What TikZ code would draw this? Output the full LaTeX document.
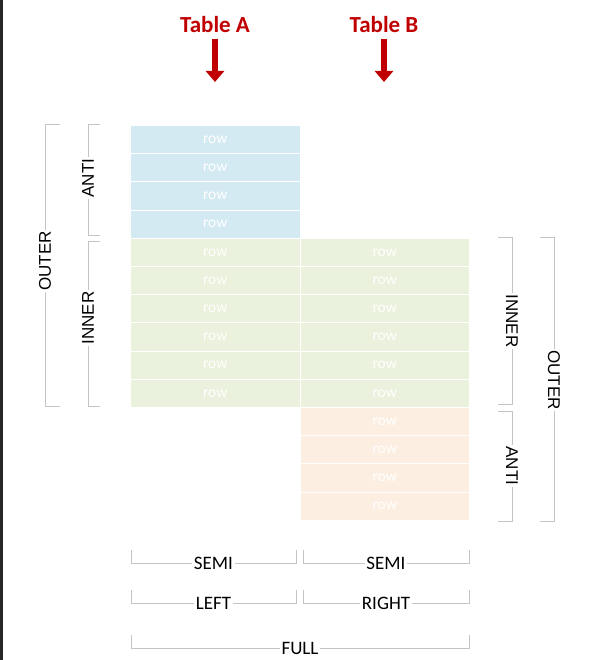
\documentclass[tikz,border=0pt]{standalone}
\usepackage{fontspec}
\setmainfont{Carlito}
\newfontfamily\sidefont{Liberation Sans}
\usetikzlibrary{arrows.meta}

\definecolor{tblblue}{HTML}{D3EAF2}
\definecolor{tblgreen}{HTML}{EAF1DD}
\definecolor{tblpeach}{HTML}{FDEEE2}
\definecolor{titlered}{HTML}{C00000}
\definecolor{brkgray}{HTML}{C4C4C4}
\definecolor{edgedark}{HTML}{262626}

\begin{document}
\begin{tikzpicture}[x=1pt,y=-1pt,
  rowcell/.style={anchor=north west, minimum width=169.5pt, minimum height=28.2pt,
    inner sep=0pt, draw=white, line width=1pt, text=white,
    font=\fontsize{15.5}{15.5}\selectfont},
  title/.style={text=titlered, font=\fontsize{23}{23}\selectfont\bfseries},
  downarrow/.style={draw=titlered, line width=6.5pt, -{Triangle[width=18pt,length=11pt]}},
  brk/.style={draw=brkgray, line width=1pt},
  sidelabel/.style={fill=white, inner sep=1.5pt, text=black,
    font=\sidefont\fontsize{17}{17}\selectfont},
  botlabel/.style={fill=white, inner sep=1.5pt, text=black,
    font=\fontsize{19}{19}\selectfont}]

\useasboundingbox (0,0) rectangle (597,660);
\fill[edgedark] (0,0) rectangle (2.5,660);

% column headers and their arrows
\node[title] (ta) at (215,25) {Table A};
\node[title] (tb) at (384,25) {Table B};
\coordinate (ta-s) at (215,39);
\coordinate (ta-e) at (215,82);
\coordinate (tb-s) at (384,39);
\coordinate (tb-e) at (384,82);
\draw[downarrow] (ta-s) -- (ta-e);
\draw[downarrow] (tb-s) -- (tb-e);

% Table A rows: 4 unmatched, 6 matched
\foreach \i in {0,...,3}
  \node[rowcell, fill=tblblue] (a\i) at (130,125+28.2*\i) {row};
\foreach \i in {4,...,9}
  \node[rowcell, fill=tblgreen] (a\i) at (130,125+28.2*\i) {row};
% Table B rows: 6 matched, 4 unmatched
\foreach \i in {4,...,9}
  \node[rowcell, fill=tblgreen] (b\i) at (299.5,125+28.2*\i) {row};
\foreach \i in {10,...,13}
  \node[rowcell, fill=tblpeach] (b\i) at (299.5,125+28.2*\i) {row};

% left-hand brackets
\draw[brk] (60,125) -- (45,125) -- (45,406) -- (60,406);
\node[sidelabel, rotate=90] (lo) at (45,261) {OUTER};
\draw[brk] (100,125) -- (88,125) -- (88,235) -- (100,235);
\node[sidelabel, rotate=90] (la) at (88,178) {ANTI};
\draw[brk] (100,241) -- (88,241) -- (88,406) -- (100,406);
\node[sidelabel, rotate=90] (li) at (88,318) {INNER};

% right-hand brackets
\draw[brk] (498,237) -- (512,237) -- (512,404) -- (498,404);
\node[sidelabel, rotate=-90] (ri) at (512,321) {INNER};
\draw[brk] (498,411) -- (512,411) -- (512,521) -- (498,521);
\node[sidelabel, rotate=-90] (ra) at (512,466) {ANTI};
\draw[brk] (540,237) -- (554,237) -- (554,521) -- (540,521);
\node[sidelabel, rotate=-90] (ro) at (554,380) {OUTER};

% bottom brackets
\draw[brk] (131,550) -- (131,563) -- (296,563) -- (296,550);
\node[botlabel] (bs1) at (213.5,563) {SEMI};
\draw[brk] (303,550) -- (303,563) -- (469,563) -- (469,550);
\node[botlabel] (bs2) at (386,563) {SEMI};
\draw[brk] (131,590) -- (131,603) -- (296,603) -- (296,590);
\node[botlabel] (bl) at (213.5,603) {LEFT};
\draw[brk] (303,590) -- (303,603) -- (469,603) -- (469,590);
\node[botlabel] (br) at (386,603) {RIGHT};
\draw[brk] (131,635) -- (131,648) -- (469,648) -- (469,635);
\node[botlabel] (bf) at (300,648) {FULL};

\end{tikzpicture}
\end{document}
